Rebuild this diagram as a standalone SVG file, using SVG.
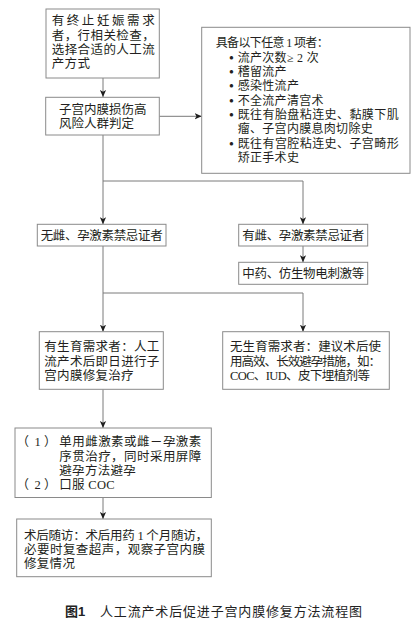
<svg xmlns="http://www.w3.org/2000/svg" width="419" height="626" viewBox="0 0 419 626">
<defs>
<style>
.box{fill:#fff;stroke:#8a8a8a;stroke-width:1}
.t{font-family:"Liberation Serif","Noto Sans CJK SC",serif;font-size:12.5px;fill:#231f20}
.s{font-size:12px}
.b{font-family:"Liberation Sans","Noto Sans CJK SC",sans-serif;font-size:8px;fill:#231f20}
.cn{fill:none;stroke:#7a7a7a;stroke-width:1}
.cap{font-family:"Liberation Serif","Noto Sans CJK SC",serif;font-size:13px;fill:#222}
.capb{font-family:"Liberation Sans","Noto Sans CJK SC",sans-serif;font-size:13px;font-weight:bold;fill:#222}
</style>
<marker id="ah" viewBox="0 0 8 7" refX="8" refY="3.5" markerWidth="7" markerHeight="7" markerUnits="userSpaceOnUse" orient="auto">
<path d="M0,0 L8,3.5 L0,7 L2,3.5 z" fill="#1e1e1e"/>
</marker>
</defs>
<rect width="419" height="626" fill="#fff"/>

<g id="connectors">
<path class="cn" d="M103 78 V97" marker-end="url(#ah)"/>
<path class="cn" d="M159.3 116.3 H201.7" marker-end="url(#ah)"/>
<path class="cn" d="M103 135 V224.3" marker-end="url(#ah)"/>
<path class="cn" d="M103 181 H303 V224.3" marker-end="url(#ah)"/>
<path class="cn" d="M303 246 V262.3" marker-end="url(#ah)"/>
<path class="cn" d="M103 246 V331.7" marker-end="url(#ah)"/>
<path class="cn" d="M103 293 H303 V331.7" marker-end="url(#ah)"/>
<path class="cn" d="M103 389.3 V428" marker-end="url(#ah)"/>
<path class="cn" d="M103 497.5 V519" marker-end="url(#ah)"/>
</g>

<g id="n1">
<rect class="box" x="46" y="9" width="113.3" height="69"/>
<text class="t" x="51.7" y="25.2" textLength="103" lengthAdjust="spacing">有终止妊娠需求</text>
<text class="t" x="51.7" y="39.5" textLength="103" lengthAdjust="spacing">者，行相关检查，</text>
<text class="t" x="51.7" y="53.8" textLength="103" lengthAdjust="spacing">选择合适的人工流</text>
<text class="t" x="51.7" y="68.2" letter-spacing="0.4">产方式</text>
</g>

<g id="n2">
<rect class="box" x="45.7" y="97.3" width="113.6" height="37.7"/>
<text class="t" x="59" y="113.5">子宫内膜损伤高</text>
<text class="t" x="59" y="128">风险人群判定</text>
</g>

<g id="n3">
<rect class="box" x="201.7" y="27.3" width="208.3" height="146"/>
<text class="t s" x="215.7" y="47.2" textLength="113" lengthAdjust="spacing">具备以下任意 1 项者：</text>
<text class="b" x="231.5" y="59.7" text-anchor="middle">●</text>
<text class="t s" x="237.7" y="61.5" letter-spacing="0.3">流产次数≥ 2 次</text>
<text class="b" x="231.5" y="74" text-anchor="middle">●</text>
<text class="t s" x="237.7" y="75.8" letter-spacing="0.3">稽留流产</text>
<text class="b" x="231.5" y="88.3" text-anchor="middle">●</text>
<text class="t s" x="237.7" y="90.1" letter-spacing="0.3">感染性流产</text>
<text class="b" x="231.5" y="102.7" text-anchor="middle">●</text>
<text class="t s" x="237.7" y="104.5" letter-spacing="0.3">不全流产清宫术</text>
<text class="b" x="231.5" y="117" text-anchor="middle">●</text>
<text class="t s" x="237.7" y="118.8" textLength="161" lengthAdjust="spacing">既往有胎盘粘连史、黏膜下肌</text>
<text class="t s" x="237.7" y="133.1" letter-spacing="0.3">瘤、子宫内膜息肉切除史</text>
<text class="b" x="231.5" y="145.7" text-anchor="middle">●</text>
<text class="t s" x="237.7" y="147.5" textLength="161" lengthAdjust="spacing">既往有宫腔粘连史、子宫畸形</text>
<text class="t s" x="237.7" y="161.8" letter-spacing="0.3">矫正手术史</text>
</g>

<g id="n4">
<rect class="box" x="37.3" y="224.3" width="128.7" height="21.7"/>
<text class="t" x="40.7" y="240.3" textLength="122" lengthAdjust="spacing">无雌、孕激素禁忌证者</text>
</g>

<g id="n5">
<rect class="box" x="238.7" y="224.3" width="129" height="21.7"/>
<text class="t" x="242.3" y="240.3" textLength="122" lengthAdjust="spacing">有雌、孕激素禁忌证者</text>
</g>

<g id="n6">
<rect class="box" x="238.7" y="262.3" width="129" height="22"/>
<text class="t" x="242.3" y="277.8" textLength="122" lengthAdjust="spacing">中药、仿生物电刺激等</text>
</g>

<g id="n7">
<rect class="box" x="39.3" y="331.7" width="124" height="57.6"/>
<text class="t" x="44.3" y="351.2" textLength="115" lengthAdjust="spacing">有生育需求者：人工</text>
<text class="t" x="44.3" y="365.5" textLength="115" lengthAdjust="spacing">流产术后即日进行子</text>
<text class="t" x="44.3" y="380" letter-spacing="0.3">宫内膜修复治疗</text>
</g>

<g id="n8">
<rect class="box" x="222.7" y="331.7" width="166.6" height="57.6"/>
<text class="t" x="230" y="351.2" textLength="151" lengthAdjust="spacing">无生育需求者：建议术后使</text>
<text class="t" x="230" y="365.5" textLength="151" lengthAdjust="spacing">用高效、长效避孕措施，如：</text>
<text class="t" x="230" y="380" textLength="140" lengthAdjust="spacing">COC、IUD、皮下埋植剂等</text>
</g>

<g id="n9">
<rect class="box" x="15" y="428" width="196.3" height="69.5"/>
<text class="t" y="446.2"><tspan x="16.5">（</tspan><tspan x="34.5">1</tspan><tspan x="44">）</tspan></text>
<text class="t" x="59.3" y="446.2" textLength="142" lengthAdjust="spacing">单用雌激素或雌－孕激素</text>
<text class="t" x="59.3" y="460.6" textLength="142" lengthAdjust="spacing">序贯治疗，同时采用屏障</text>
<text class="t" x="59.3" y="475" letter-spacing="0.3">避孕方法避孕</text>
<text class="t" y="489.4"><tspan x="16.5">（</tspan><tspan x="34.5">2</tspan><tspan x="44">）</tspan></text>
<text class="t" x="59.3" y="489.4" letter-spacing="0.3">口服 COC</text>
</g>

<g id="n10">
<rect class="box" x="16.7" y="519" width="194.6" height="57.7"/>
<text class="t" x="24" y="539.5" textLength="184" lengthAdjust="spacing">术后随访：术后用药 1 个月随访，</text>
<text class="t" x="24" y="553.8" textLength="181" lengthAdjust="spacing">必要时复查超声，观察子宫内膜</text>
<text class="t" x="24" y="568.2" letter-spacing="0.3">修复情况</text>
</g>

<g id="caption">
<text class="capb" x="65" y="616">图1</text>
<text class="cap" x="100" y="616" textLength="262" lengthAdjust="spacing">人工流产术后促进子宫内膜修复方法流程图</text>
</g>
</svg>
